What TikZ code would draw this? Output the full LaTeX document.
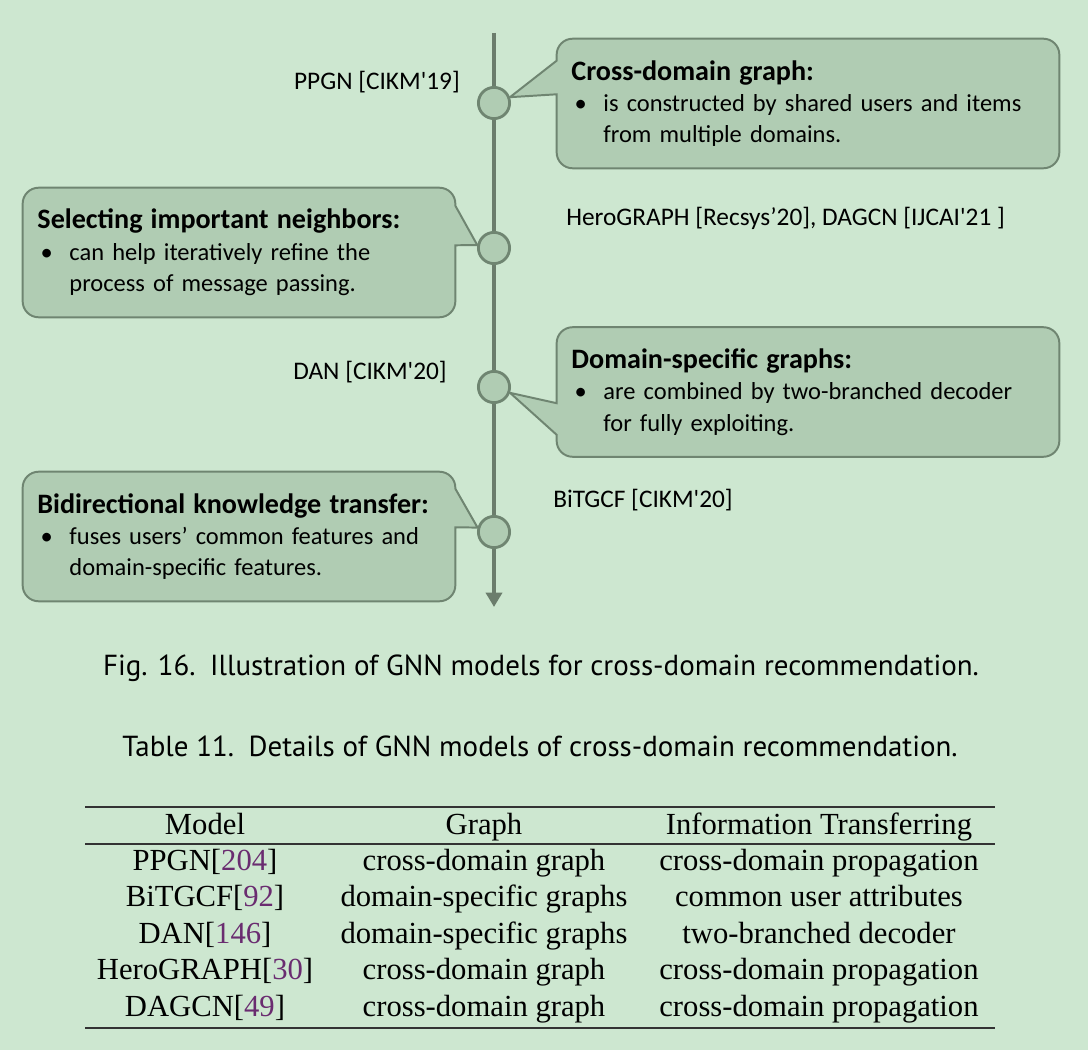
\documentclass[tikz,border=0pt]{standalone}
\usepackage{fontspec}
\setmainfont{Carlito}
\newfontfamily\capfont{PT Sans}
\newfontfamily\tabfont{Liberation Serif}
\usepackage{xcolor}
\usetikzlibrary{positioning, arrows.meta, calc, backgrounds}
\definecolor{bg}{HTML}{CDE7D0}
\definecolor{notefill}{HTML}{B0CCB3}
\definecolor{noteline}{HTML}{6F8571}
\definecolor{axis}{HTML}{6B7D6C}
\definecolor{citecol}{HTML}{6A2C70}
\newcommand{\ntitle}[1]{{\fontsize{20}{22}\selectfont\bfseries #1}}
\newcommand{\bul}{\makebox[0.8cm][l]{\hspace{0.08cm}\textbullet}}
\newcommand{\cnt}{\hspace*{0.8cm}}
\newcommand{\rn}[1]{[\textcolor{citecol}{#1}]}
\tikzset{
  note/.style={
    text width=#1,
    inner xsep=0.3625cm,
    minimum height=3.225cm,
    align=left,
    font=\fontsize{17.4}{22.3}\selectfont
  },
  note shape/.style={
    fill=notefill,
    draw=noteline,
    line width=1.4pt
  },
  event/.style={
    circle, fill=notefill, draw=noteline,
    line width=2pt, minimum size=0.78cm, inner sep=0pt
  },
  venue/.style={font=\fontsize{18}{22}\selectfont, inner sep=0pt},
  timeline/.style={
    -{Triangle[width=0.4cm,length=0.36cm]},
    line width=3pt,
    color=axis
  },
  caption/.style={font=\capfont\fontsize{20.6}{24}\selectfont, inner sep=0pt},
  cell/.style={font=\tabfont\fontsize{21.8}{26}\selectfont, inner sep=0pt, anchor=base},
  heavy rule/.style={line width=1.6pt, color=black!80},
  light rule/.style={line width=1pt, color=black!80}
}

\begin{document}
\begin{tikzpicture}[x=0.025cm, y=-0.025cm]
  \useasboundingbox (0,0) rectangle (1088,1050);

  % timeline
  \coordinate (top) at (494,33);
  \coordinate (bot) at (494,607);
  \draw[timeline] (top) -- (bot);

  \node[event] (c1) at (494,103) {};
  \node[event] (c2) at (494,248) {};
  \node[event] (c3) at (494,387) {};
  \node[event] (c4) at (494,532) {};

  % venues
  \node[venue, anchor=east] (v1) at (460,82) {PPGN [CIKM\textquotesingle 19]};
  \node[venue, anchor=west] (v2) at (566,218) {HeroGRAPH [Recsys’20], DAGCN [IJCAI\textquotesingle 21 ]};
  \node[venue, anchor=east] (v3) at (447,372) {DAN [CIKM\textquotesingle 20]};
  \node[venue, anchor=west] (v4) at (553,500) {BiTGCF [CIKM\textquotesingle 20]};

  % notes
  \node[note=11.825cm] (b1) at (808,103.5) {\ntitle{Cross-domain graph:}\\
    \bul is constructed by shared users and items\\
    \cnt from multiple domains.};
  \node[note=10.075cm] (b2) at (239,252.5) {\ntitle{Selecting important neighbors:}\\
    \bul can help iteratively refine the\\
    \cnt process of message passing.};
  \node[note=11.825cm] (b3) at (808,392) {\ntitle{Domain-specific graphs:}\\
    \bul are combined by two-branched decoder\\
    \cnt for fully exploiting.};
  \node[note=10.075cm] (b4) at (239,536.5) {\ntitle{Bidirectional knowledge transfer:}\\
    \bul fuses users’ common features and\\
    \cnt domain-specific features.};

  \begin{scope}[on background layer]
    \fill[bg] (0,0) rectangle (1088,1050);
    \filldraw[note shape] ($(b1.north west)+(0,22)$) [rounded corners=0.4cm]
      -- (b1.north west) -- (b1.north east) -- (b1.south east) -- (b1.south west)
      [sharp corners] -- ($(b1.south west)+(0,-74)$) -- (c1.20) -- cycle;
    \filldraw[note shape] ($(b2.north east)+(0,18)$) [rounded corners=0.4cm]
      -- (b2.north east) -- (b2.north west) -- (b2.south west) -- (b2.south east)
      [sharp corners] -- ($(b2.south east)+(0,-72)$) -- (c2.170) -- cycle;
    \filldraw[note shape] ($(b3.north west)+(0,76)$) [rounded corners=0.4cm]
      -- (b3.north west) -- (b3.north east) -- (b3.south east) -- (b3.south west)
      [sharp corners] -- ($(b3.south west)+(0,-22)$) -- (c3.-20) -- cycle;
    \filldraw[note shape] ($(b4.north east)+(0,17)$) [rounded corners=0.4cm]
      -- (b4.north east) -- (b4.north west) -- (b4.south west) -- (b4.south east)
      [sharp corners] -- ($(b4.south east)+(0,-74)$) -- (c4.165) -- cycle;
  \end{scope}

  % captions
  \node[caption] (fig cap) at (541,668) {Fig. 16.\enspace Illustration of GNN models for cross-domain recommendation.};
  \node[caption] (tab cap) at (540,746) {Table 11.\enspace Details of GNN models of cross-domain recommendation.};

  % table
  \coordinate (r0w) at (85,807);  \coordinate (r0e) at (995,807);
  \coordinate (r1w) at (85,844);  \coordinate (r1e) at (995,844);
  \coordinate (r2w) at (85,1028); \coordinate (r2e) at (995,1028);
  \draw[heavy rule] (r0w) -- (r0e);
  \draw[light rule] (r1w) -- (r1e);
  \draw[heavy rule] (r2w) -- (r2e);

  \node[cell] (h1) at (205,834) {Model};
  \node[cell] (h2) at (484,834) {Graph};
  \node[cell] (h3) at (819,834) {Information Transferring};

  \node[cell] (m1) at (205,870) {PPGN\rn{204}};
  \node[cell] (g1) at (484,870) {cross-domain graph};
  \node[cell] (t1) at (819,870) {cross-domain propagation};

  \node[cell] (m2) at (205,906.5) {BiTGCF\rn{92}};
  \node[cell] (g2) at (484,906.5) {domain-specific graphs};
  \node[cell] (t2) at (819,906.5) {common user attributes};

  \node[cell] (m3) at (205,943) {DAN\rn{146}};
  \node[cell] (g3) at (484,943) {domain-specific graphs};
  \node[cell] (t3) at (819,943) {two-branched decoder};

  \node[cell] (m4) at (205,979.5) {HeroGRAPH\rn{30}};
  \node[cell] (g4) at (484,979.5) {cross-domain graph};
  \node[cell] (t4) at (819,979.5) {cross-domain propagation};

  \node[cell] (m5) at (205,1016) {DAGCN\rn{49}};
  \node[cell] (g5) at (484,1016) {cross-domain graph};
  \node[cell] (t5) at (819,1016) {cross-domain propagation};
\end{tikzpicture}
\end{document}
